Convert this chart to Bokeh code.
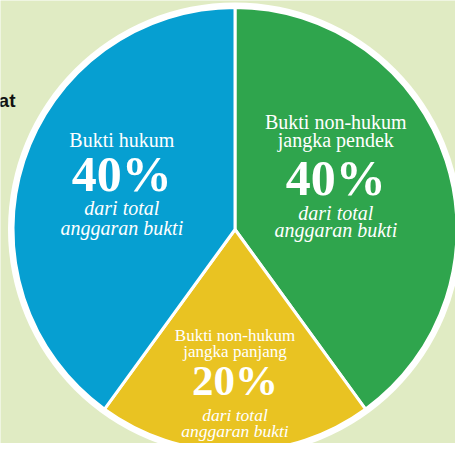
import math
from bokeh.plotting import figure
from bokeh.models import Range1d, ColumnDataSource, Label
from bokeh.core.properties import value
from bokeh.embed import file_html
from bokeh.resources import INLINE

# ---- data (clockwise from 12 o'clock) ----
categories = ["Bukti non-hukum\njangka pendek", "Bukti non-hukum\njangka panjang", "Bukti hukum"]
shares = [40, 20, 40]
pct_labels = ["40%", "20%", "40%"]
sub_label = "dari total\nanggaran bukti"
colors = ["#2fa54d", "#e9c322", "#069fd1"]
side_word = "at"

BG = "#e0ebc3"
W, H = 455, 443
p = figure(width=W, height=H, output_backend="svg", toolbar_location=None,
           x_range=Range1d(0, W), y_range=Range1d(0, H), min_border=0,
           background_fill_color=BG, border_fill_color=BG)
p.axis.visible = False
p.grid.visible = False
p.outline_line_color = None


def Y(img_y):
    return H - img_y


cx, cy = 234.5, Y(229)
R = 222

# angles
total = sum(shares)
starts, ends, mids = [], [], []
a = math.pi / 2
for s in shares:
    span = 2 * math.pi * s / total
    starts.append(a)
    ends.append(a - span)
    mids.append(a - span / 2)
    a -= span

p.circle(x=[cx], y=[cy], radius=R + 5, fill_color="white", line_color=None)
src = ColumnDataSource(dict(x=[cx] * 3, y=[cy] * 3, start=starts, end=ends, color=colors))
p.wedge(x="x", y="y", radius=R, start_angle="start", end_angle="end", direction="clock",
        fill_color="color", line_color="white", line_width=3, source=src)

# label styling per wedge
label_r = [106, 167, 119]
title_size = [20, 17, 20]
pct_size = [50, 43, 50]
sub_size = [20, 17.5, 20]
title_gap = [49, 39, 45]
title_step = [18, 15.5, 18]
sub_offs = [(-23.5, -41), (-25, -41), (-23, -42.5)]
K = 0.38  # baseline correction (fraction of font size)

serif = "Liberation Serif"
for i in range(3):
    bx = cx + label_r[i] * math.cos(mids[i])
    by = cy + label_r[i] * math.sin(mids[i])
    lines = categories[i].split("\n")
    ys = [by + title_gap[i] + title_step[i] * (len(lines) - 1 - k) + K * title_size[i]
          for k in range(len(lines))]
    p.text(x=[bx] * len(lines), y=ys, text=lines, text_align="center", text_baseline="alphabetic",
           text_font=value(serif), text_font_size=f"{title_size[i]}px", text_color="white")
    p.text(x=[bx], y=[by + K * pct_size[i]], text=[pct_labels[i]], text_align="center",
           text_baseline="alphabetic", text_font=value(serif), text_font_style="bold",
           text_font_size=f"{pct_size[i]}px", text_color="white")
    sl = sub_label.split("\n")
    p.text(x=[bx, bx], y=[by + sub_offs[i][0] + K * sub_size[i], by + sub_offs[i][1] + K * sub_size[i]],
           text=sl, text_align="center", text_baseline="alphabetic", text_font=value(serif),
           text_font_style="italic", text_font_size=f"{sub_size[i]}px", text_color="white")

p.add_layout(Label(x=15, y=Y(107) + K * 19, text=side_word, text_align="right", text_baseline="alphabetic",
                   text_font="Liberation Sans", text_font_style="bold", text_font_size="19px",
                   text_color="#111111"))

open("out.html", "w").write(file_html(p, INLINE))
